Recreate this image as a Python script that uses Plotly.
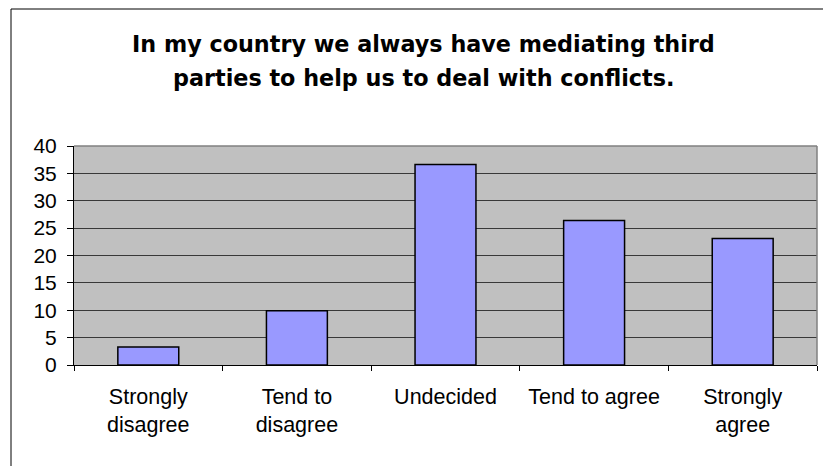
import plotly.graph_objects as go

# Survey responses (percent of respondents)
categories = ["Strongly disagree", "Tend to disagree", "Undecided", "Tend to agree", "Strongly agree"]
tick_labels = ["Strongly<br>disagree", "Tend to<br>disagree", "Undecided", "Tend to agree", "Strongly<br>agree"]
percentages = [3.3, 9.9, 36.6, 26.4, 23.1]
title_lines = [
    "In my country we always have mediating third",
    "parties to help us to deal with conflicts.",
]
y_ticks = [0, 5, 10, 15, 20, 25, 30, 35, 40]

W, H = 823, 466
ML, MR, MT, MB = 74, 6, 146, 101
plot_w = W - ML - MR
plot_h = H - MT - MB


def px_x(p):
    return (p - ML) / plot_w


def px_y(p):
    return (H - MB - p) / plot_h


fig = go.Figure(
    go.Bar(
        x=categories,
        y=percentages,
        width=0.41,
        marker=dict(color="#9999FF", line=dict(color="#000000", width=1.5)),
        hoverinfo="x+y",
    )
)

axis_font = dict(family="Liberation Sans, Arial, sans-serif", size=21, color="#000000")
title_font = dict(family="DejaVu Sans, sans-serif", size=22.3, color="#000000", weight="bold")

fig.update_layout(
    width=W,
    height=H,
    margin=dict(l=ML, r=MR, t=MT, b=MB, pad=0),
    paper_bgcolor="#FFFFFF",
    plot_bgcolor="#C0C0C0",
    showlegend=False,
    bargap=0.59,
    xaxis=dict(
        tickmode="array",
        tickvals=categories,
        ticktext=tick_labels,
        tickson="boundaries",
        ticks="outside",
        ticklen=5,
        tickcolor="#000000",
        tickwidth=1,
        showline=True,
        linecolor="#000000",
        linewidth=1,
        showgrid=False,
        tickfont=dict(axis_font, size=21.5),
        ticklabelstandoff=12,
        fixedrange=True,
    ),
    yaxis=dict(
        range=[0, 40],
        tickmode="array",
        tickvals=y_ticks,
        ticks="outside",
        ticklen=6,
        tickcolor="#000000",
        showline=True,
        linecolor="#000000",
        linewidth=1,
        showgrid=True,
        gridcolor="#383838",
        gridwidth=1.2,
        zeroline=False,
        tickfont=axis_font,
        ticklabelstandoff=6,
        fixedrange=True,
    ),
    shapes=[
        # outer chart frame
        dict(type="rect", xref="paper", yref="paper",
             x0=px_x(11), x1=px_x(W + 20), y0=px_y(H + 20), y1=px_y(9),
             line=dict(color="#000000", width=1), fillcolor="rgba(0,0,0,0)", layer="below"),
        # plot area border, top and right edges
        dict(type="line", xref="paper", yref="paper", x0=0, x1=1, y0=1, y1=1,
             line=dict(color="#808080", width=1.5)),
        dict(type="line", xref="paper", yref="paper", x0=1, x1=1, y0=0, y1=1,
             line=dict(color="#808080", width=1.5)),
    ],
    annotations=[
        dict(text=title_lines[0], xref="paper", yref="paper",
             x=px_x(423.5), y=px_y(43.5), xanchor="center", yanchor="middle",
             showarrow=False, font=title_font),
        dict(text=title_lines[1], xref="paper", yref="paper",
             x=px_x(423), y=px_y(78), xanchor="center", yanchor="middle",
             showarrow=False, font=title_font),
    ],
)

fig.write_html("out.html", config={"displayModeBar": False})
